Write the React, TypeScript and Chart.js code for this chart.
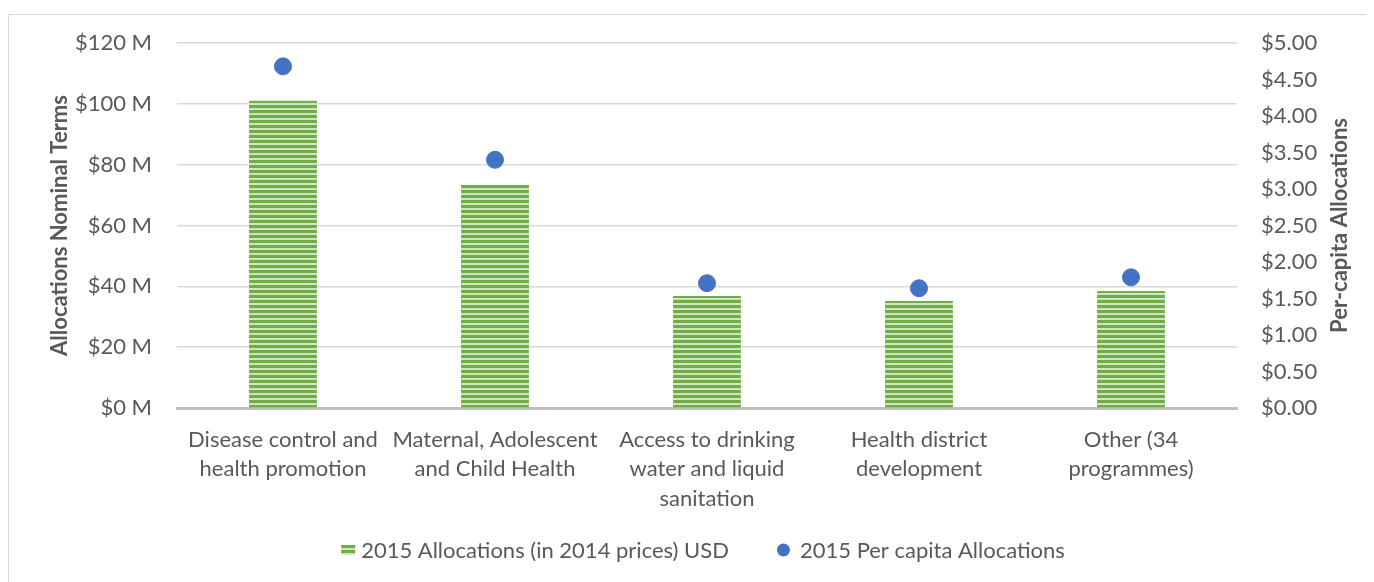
import React, { useEffect, useRef } from "react";
import { Chart, registerables } from "chart.js";

Chart.register(...registerables);

const categories: string[][] = [
  ["Disease control and", "health promotion"],
  ["Maternal, Adolescent", "and Child Health"],
  ["Access to drinking", "water and liquid", "sanitation"],
  ["Health district", "development"],
  ["Other (34", "programmes)"],
];
const allocations: number[] = [101, 73.3, 36.8, 35.2, 38.5];
const perCapita: number[] = [4.68, 3.4, 1.71, 1.64, 1.79];
const barLabel = "2015 Allocations (in 2014 prices) USD";
const pointLabel = "2015 Per capita Allocations";
const leftTitle = "Allocations Nominal Terms";
const rightTitle = "Per-capita Allocations";

const FONT = "Lato";
const FS = 22;
const TEXT = "#595959";
const BAR_GREEN = "#70AD47";
const DOT_BLUE = "#4472C4";

function makePattern(): CanvasPattern | string {
  const c = document.createElement("canvas");
  c.width = 4;
  c.height = 5;
  const ctx = c.getContext("2d");
  if (!ctx) return BAR_GREEN;
  ctx.fillStyle = BAR_GREEN;
  ctx.fillRect(0, 0, 4, 5);
  ctx.fillStyle = "#CFE5C0";
  ctx.fillRect(0, 3, 4, 2);
  const p = ctx.createPattern(c, "repeat");
  return p || BAR_GREEN;
}

function makePlugins(pattern: any) {
  return [
    {
      id: "rightTitle",
      afterDraw(chart: any) {
        const { ctx, chartArea } = chart;
        ctx.save();
        ctx.translate(chart.width - 31, (chartArea.top + chartArea.bottom) / 2);
        ctx.rotate(-Math.PI / 2);
        ctx.font = `bold ${FS}px ${FONT}`;
        ctx.fillStyle = TEXT;
        ctx.textAlign = "center";
        ctx.textBaseline = "middle";
        ctx.fillText(rightTitle, 0, 0);
        ctx.restore();
      },
    },
    {
      id: "customLegend",
      afterDraw(chart: any) {
        const { ctx } = chart;
        ctx.save();
        ctx.font = `${FS}px ${FONT}`;
        ctx.textBaseline = "middle";
        ctx.textAlign = "left";
        const w1 = ctx.measureText(barLabel).width;
        const w2 = ctx.measureText(pointLabel).width;
        const box = 14;
        const gapBox = 6;
        const gapItems = 48;
        const dot = 13;
        const gapDot = 10;
        const total = box + gapBox + w1 + gapItems + dot + gapDot + w2;
        const cx = chart.width / 2 + 13;
        const cy = chart.height - 31;
        let x = cx - total / 2;
        ctx.fillStyle = pattern;
        ctx.fillRect(x, cy - 5, box, 10);
        x += box + gapBox;
        ctx.fillStyle = TEXT;
        ctx.fillText(barLabel, x, cy + 1);
        x += w1 + gapItems;
        ctx.fillStyle = DOT_BLUE;
        ctx.beginPath();
        ctx.arc(x + dot / 2, cy, dot / 2, 0, Math.PI * 2);
        ctx.fill();
        x += dot + gapDot;
        ctx.fillStyle = TEXT;
        ctx.fillText(pointLabel, x, cy + 1);
        ctx.restore();
      },
    },
  ];
}

export default function App() {
  const ref = useRef<HTMLCanvasElement | null>(null);
  useEffect(() => {
    if (!ref.current) return;
    const pattern = makePattern();
    const chart = new Chart(ref.current, {
      type: "bar",
      data: {
        labels: categories,
        datasets: [
          {
            type: "scatter" as any,
            label: pointLabel,
            data: perCapita as any,
            yAxisID: "y1",
            backgroundColor: DOT_BLUE,
            borderColor: DOT_BLUE,
            pointRadius: 8.5,
            pointHoverRadius: 8.5,
            showLine: false,
            order: 0,
          } as any,
          {
            type: "bar",
            label: barLabel,
            data: allocations,
            yAxisID: "y",
            backgroundColor: pattern as any,
            borderWidth: 0,
            barPercentage: 0.32,
            categoryPercentage: 1,
            order: 1,
          },
        ],
      },
      plugins: makePlugins(pattern),
      options: {
        animation: false,
        responsive: false,
        layout: { padding: { top: 28, bottom: 53, left: 0, right: 0 } },
        plugins: {
          tooltip: { enabled: false },
          legend: { display: false },
        },
        scales: {
          x: {
            type: "category",
            offset: true,
            grid: { display: false, drawTicks: false },
            border: { display: true, color: "#BFBFBF", width: 3 },
            ticks: {
              color: TEXT,
              font: { family: FONT, size: FS, lineHeight: 1.34 },
              padding: 17,
              maxRotation: 0,
              autoSkip: false,
            },
            afterFit: (s: any) => {
              s.height = 120;
            },
          },
          y: {
            position: "left",
            min: 0,
            max: 120,
            ticks: {
              stepSize: 20,
              color: TEXT,
              font: { family: FONT, size: FS },
              padding: 5,
              callback: (v: any) => "$" + v + " M",
            },
            grid: {
              color: "#D9D9D9",
              lineWidth: 1.5,
              drawTicks: true,
              tickLength: 20,
              tickColor: "rgba(0,0,0,0)",
            },
            border: { display: false },
            title: {
              display: true,
              text: leftTitle,
              color: TEXT,
              font: { family: FONT, size: FS, weight: "bold" },
              padding: { top: 38, bottom: 0 },
            },
            afterFit: (s: any) => {
              s.width = 168;
            },
          },
          y1: {
            position: "right",
            min: 0,
            max: 5,
            ticks: {
              stepSize: 0.5,
              color: TEXT,
              font: { family: FONT, size: FS },
              padding: 4,
              callback: (v: any) => "$" + Number(v).toFixed(2),
            },
            grid: {
              display: true,
              drawOnChartArea: false,
              drawTicks: true,
              tickLength: 20,
              color: "rgba(0,0,0,0)",
              tickColor: "rgba(0,0,0,0)",
            },
            border: { display: false },
            afterFit: (s: any) => {
              s.width = 134;
            },
          },
        },
      } as any,
    });
    return () => chart.destroy();
  }, []);
  return (
    <div
      style={{
        marginTop: 6,
        marginLeft: 0,
        width: 1364,
        height: 600,
        border: "1px solid #D9D9D9",
        boxSizing: "border-box",
        background: "#fff",
      }}
    >
      <canvas ref={ref} width={1362} height={566} style={{ display: "block" }} />
    </div>
  );
}
